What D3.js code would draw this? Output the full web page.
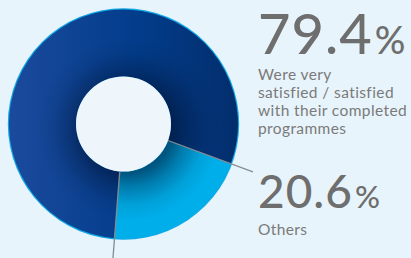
<!DOCTYPE html>
<html>
<head>
<meta charset="utf-8">
<script src="https://cdn.jsdelivr.net/npm/d3@7"></script>
<style>
  html, body { margin: 0; padding: 0; background: #e8f4fb; }
  svg { display: block; }
  text { font-family: Lato, "Open Sans", sans-serif; fill: #6e6e6e; }
</style>
</head>
<body>
<div id="chart"></div>
<script>
// data
var categories = ["Were very satisfied / satisfied with their completed programmes", "Others"];
var values = [79.4, 20.6];
var valueLabels = ["79.4", "20.6"];
var labelLines = [["Were very", "satisfied / satisfied", "with their completed", "programmes"], ["Others"]];

var width = 411, height = 258;
var cx = 123.5, cy = 124, outerR = 114.5, innerR = 47.5;

var svg = d3.select("#chart").append("svg")
    .attr("width", width)
    .attr("height", height);

var defs = svg.append("defs");

var gDark = defs.append("linearGradient").attr("id", "gradDark")
    .attr("x1", "0%").attr("y1", "0%").attr("x2", "100%").attr("y2", "0%");
gDark.append("stop").attr("offset", "0%").attr("stop-color", "#1b4a9c");
gDark.append("stop").attr("offset", "55%").attr("stop-color", "#023d8c");
gDark.append("stop").attr("offset", "100%").attr("stop-color", "#032e6c");

// shadow thrown by the hole, a bit down-right (coords local to the ring group)
var shadow = defs.append("radialGradient").attr("id", "gradShadow")
    .attr("gradientUnits", "userSpaceOnUse")
    .attr("cx", 5).attr("cy", 5).attr("r", 100);
shadow.append("stop").attr("offset", "44%").attr("stop-color", "#00102e").attr("stop-opacity", 0.8);
shadow.append("stop").attr("offset", "58%").attr("stop-color", "#00102e").attr("stop-opacity", 0.45);
shadow.append("stop").attr("offset", "76%").attr("stop-color", "#00102e").attr("stop-opacity", 0.12);
shadow.append("stop").attr("offset", "92%").attr("stop-color", "#00102e").attr("stop-opacity", 0);

var fillColor = d3.scaleOrdinal()
    .domain(categories)
    .range(["url(#gradDark)", "#00aee9"]);

var start = 184.5 * Math.PI / 180;
var pie = d3.pie().sort(null).startAngle(start).endAngle(start + 2 * Math.PI);
var arcs = pie(values);

var arc = d3.arc().innerRadius(innerR).outerRadius(outerR);

var g = svg.append("g").attr("transform", "translate(" + cx + "," + cy + ")");

// thin light rim behind the ring
g.append("circle").attr("r", outerR + 1.2).attr("fill", "#0fa9e6");

g.selectAll("path.slice")
    .data(arcs)
  .enter().append("path")
    .attr("class", "slice")
    .attr("d", arc)
    .attr("fill", function(d, i) { return fillColor(categories[i]); });

g.append("path")
    .attr("d", arc({startAngle: 0, endAngle: 2 * Math.PI}))
    .attr("fill", "url(#gradShadow)")
    .attr("opacity", 0.7);

// hole
g.append("circle").attr("r", innerR).attr("fill", "#eef6fc");

// leader lines along slice boundaries
var leaderLen = [140, 138];
var bounds = [arcs[0].startAngle, arcs[0].endAngle];
g.selectAll("line.leader")
    .data(bounds)
  .enter().append("line")
    .attr("class", "leader")
    .attr("x1", function(a) { return innerR * Math.sin(a); })
    .attr("y1", function(a) { return -innerR * Math.cos(a); })
    .attr("x2", function(a, i) { return leaderLen[i] * Math.sin(a); })
    .attr("y2", function(a, i) { return -leaderLen[i] * Math.cos(a); })
    .attr("stroke", "#858b92")
    .attr("stroke-width", 1.3);

// labels
var labelX = 258;
var bigY = [53.5, 208];
var bigSize = [56, 46];
var pctSize = [38, 31];
var subY = [80.3, 235];

values.forEach(function(v, i) {
  var t = svg.append("text")
      .attr("x", labelX)
      .attr("y", bigY[i])
      .style("font-size", bigSize[i] + "px")
      .style("font-weight", 500)
      .style("letter-spacing", "1px");
  t.append("tspan").text(valueLabels[i]);
  t.append("tspan").style("font-size", pctSize[i] + "px").attr("dx", 2).text("%");

  svg.append("g").selectAll("text")
      .data(labelLines[i])
    .enter().append("text")
      .attr("x", labelX)
      .attr("y", function(d, j) { return subY[i] + j * 17.8; })
      .style("font-size", "15.5px")
      .style("font-weight", 400)
      .style("letter-spacing", "0.4px")
      .style("fill", "#7a7a7a")
      .text(function(d) { return d; });
});
</script>
</body>
</html>
